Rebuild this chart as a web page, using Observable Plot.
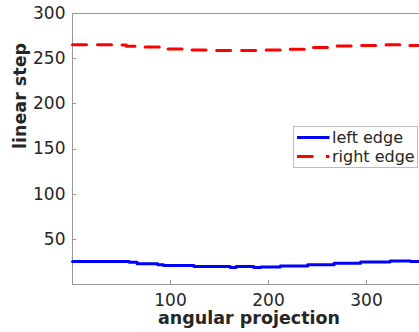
<!DOCTYPE html>
<html><head><meta charset="utf-8">
<script src="https://cdn.jsdelivr.net/npm/d3@7"></script>
<script src="https://cdn.jsdelivr.net/npm/@observablehq/plot@0.6"></script>
<style>body{margin:0;background:#fff}#c{position:relative;width:419px;height:332px;overflow:hidden}</style>
</head><body><div id="c"></div>
<script>
const xTicks = [100, 200, 300];
const yTicks = [50, 100, 150, 200, 250, 300];
const leftAngle = [0, 58, 66, 87, 93, 124, 161, 167, 185, 192, 212, 240, 267, 294, 324, 345, 360];
const leftValue = [25.5, 24.5, 23, 22, 21, 20, 18.8, 19.8, 18.8, 19.5, 20.5, 22, 23.5, 25, 26, 25.5, 25.5];
const rightAngle = [0, 48, 55, 70, 95, 118, 145, 195, 220, 245, 268, 292, 320, 340, 360];
const rightValue = [265.5, 265, 263.8, 263, 260.6, 259.5, 259, 259.5, 260.5, 262.5, 264, 264.5, 265.5, 264.5, 264.5];
const legendLabels = ["left edge", "right edge"];
const seriesColors = ["#0000ff", "#ff0000"];

const left = leftAngle.map((a, i) => ({a, v: leftValue[i]}));
const right = rightAngle.map((a, i) => ({a, v: rightValue[i]}));
const font = "DejaVu Sans";
const ink = "#262626";

const chart = Plot.plot({
  width: 419, height: 332,
  marginLeft: 72, marginRight: 0, marginTop: 13, marginBottom: 48,
  style: {fontFamily: font, fontSize: "17px", color: ink, background: "#fff"},
  x: {domain: [0, 360], range: [72, 424.8]},
  y: {domain: [0, 300], range: [284, 13]},
  marks: [
    Plot.ruleY([0, 300], {stroke: "#999", strokeWidth: 1}),
    Plot.ruleX([0], {stroke: "#999", strokeWidth: 1}),
    Plot.axisY(yTicks, {tickSize: 0, tickPadding: 7, label: null, fontSize: 17, fill: ink}),
    Plot.axisX(xTicks, {tickSize: 0, tickPadding: 9, label: null, fontSize: 17, fill: ink}),
    Plot.line(left, {x: "a", y: "v", curve: "step-after", stroke: seriesColors[0], strokeWidth: 3}),
    Plot.line(right, {x: "a", y: "v", curve: "step-after", stroke: seriesColors[1], strokeWidth: 3, strokeDasharray: "14,11"}),
    Plot.text(["linear step"], {frameAnchor: "left", dx: -52.5, rotate: -90, text: d => d, fontWeight: "bold", fontSize: 17.5, fill: ink}),
    Plot.text(["angular projection"], {frameAnchor: "bottom", dy: 39.5, dx: 3, text: d => d, fontWeight: "bold", fontSize: 17.5, fill: ink})
  ]
});
document.getElementById("c").appendChild(chart);

const svg = d3.select(chart);
const sx = chart.scale("x"), sy = chart.scale("y");
// inward tick marks
const tg = svg.append("g").attr("stroke", "#999").attr("stroke-width", 1);
yTicks.forEach(t => {
  const y = Math.round(sy.apply(t)) + 0.5;
  tg.append("line").attr("x1", sx.apply(0)).attr("x2", sx.apply(0) + 4).attr("y1", y).attr("y2", y);
});
xTicks.forEach(t => {
  const x = Math.round(sx.apply(t)) + 0.5;
  tg.append("line").attr("x1", x).attr("x2", x).attr("y1", sy.apply(0)).attr("y2", sy.apply(0) - 4);
});

// legend
const g = svg.append("g").attr("font-family", font).attr("font-size", 16).attr("fill", ink).attr("text-anchor", "start");
g.append("rect").attr("x", 293.5).attr("y", 126.5).attr("width", 124).attr("height", 41)
  .attr("fill", "#fff").attr("stroke", "#bbb").attr("stroke-width", 1);
legendLabels.forEach((lab, i) => {
  const y = 137.5 + i * 19;
  g.append("line").attr("x1", 297).attr("x2", 329.5).attr("y1", y).attr("y2", y)
    .attr("stroke", seriesColors[i]).attr("stroke-width", 3)
    .attr("stroke-dasharray", i === 1 ? "16.5,12.5" : null);
  g.append("text").attr("x", 332).attr("y", y + 5).attr("text-anchor", "start").text(lab);
});
</script></body></html>
